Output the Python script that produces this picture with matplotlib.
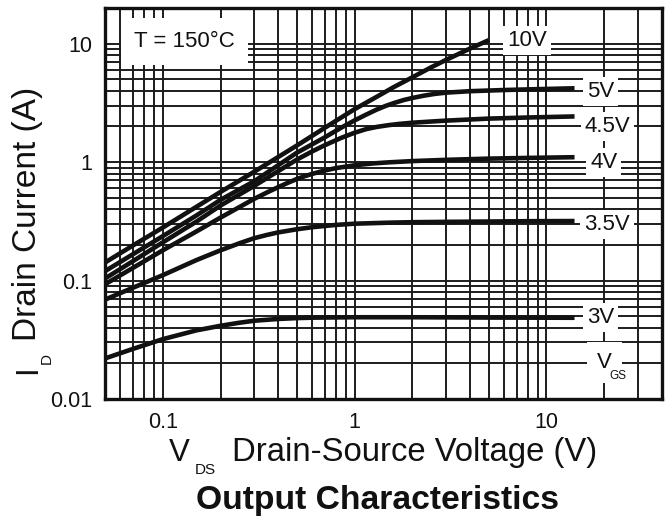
import matplotlib
matplotlib.use("Agg")
import matplotlib.pyplot as plt
from matplotlib.ticker import LogLocator, NullFormatter, FixedLocator, FixedFormatter

plt.rcParams['font.family'] = ['Liberation Sans', 'DejaVu Sans']

# Output characteristics at T = 150 °C: drain current vs drain-source voltage per gate voltage
vgs_labels = ["10V", "5V", "4.5V", "4V", "3.5V", "3V"]

vds_10 = [0.05, 0.07, 0.1, 0.15, 0.2, 0.3, 0.5, 0.7, 1.0, 1.3, 1.6, 2.0, 2.5, 3.0, 4.0, 5.0]
id_10 = [0.142, 0.198, 0.28, 0.42, 0.56, 0.83, 1.38, 1.95, 2.8, 3.55, 4.3, 5.2, 6.3, 7.3, 9.1, 10.7]

vds_5 = [0.05, 0.07, 0.1, 0.15, 0.2, 0.3, 0.5, 0.7, 0.85, 1.0, 1.15, 1.3, 1.45, 1.6, 1.8,
         2.0, 2.3, 2.6, 3.0, 4.0, 6.0, 9.0, 14.0]
id_5 = [0.12, 0.167, 0.237, 0.355, 0.48, 0.69, 1.2, 1.62, 1.95, 2.25, 2.52, 2.77, 2.98, 3.15, 3.34,
        3.48, 3.64, 3.76, 3.86, 3.97, 4.06, 4.13, 4.2]

vds_45 = [0.05, 0.07, 0.1, 0.15, 0.2, 0.3, 0.5, 0.6, 0.7, 0.85, 1.0, 1.15, 1.3, 1.5, 1.7, 2.0,
          2.5, 3.0, 5.0, 8.0, 14.0]
id_45 = [0.104, 0.146, 0.21, 0.315, 0.43, 0.63, 1.05, 1.23, 1.39, 1.6, 1.77, 1.9, 1.98, 2.05, 2.1, 2.15,
         2.2, 2.24, 2.33, 2.38, 2.43]

vds_4 = [0.05, 0.07, 0.1, 0.15, 0.2, 0.3, 0.35, 0.4, 0.45, 0.5, 0.55, 0.6, 0.7, 0.8, 1.0, 1.25,
         1.5, 2.0, 3.0, 5.0, 8.0, 14.0]
id_4 = [0.093, 0.128, 0.18, 0.26, 0.34, 0.49, 0.555, 0.615, 0.67, 0.72, 0.76, 0.795, 0.85, 0.89, 0.94,
        0.975, 0.995, 1.02, 1.045, 1.07, 1.085, 1.1]

vds_35 = [0.05, 0.07, 0.1, 0.15, 0.2, 0.25, 0.3, 0.35, 0.4, 0.5, 0.6, 0.8, 1.0, 1.5, 2.0, 3.0,
          5.0, 8.0, 14.0]
id_35 = [0.069, 0.087, 0.111, 0.149, 0.18, 0.206, 0.228, 0.243, 0.255, 0.271, 0.282, 0.295, 0.302,
         0.308, 0.311, 0.313, 0.315, 0.317, 0.318]

vds_3 = [0.05, 0.07, 0.1, 0.15, 0.2, 0.25, 0.3, 0.4, 0.5, 0.6, 1.0, 2.0, 5.0, 14.0]
id_3 = [0.022, 0.0265, 0.032, 0.038, 0.0415, 0.044, 0.0458, 0.0474, 0.0482, 0.0486, 0.049, 0.049,
        0.0487, 0.0485]

x_ticks = [0.1, 1, 10]
x_tick_labels = ["0.1", "1", "10"]
y_ticks = [0.01, 0.1, 1, 10]
y_tick_labels = ["0.01", "0.1", "1", "10"]

W, H = 672, 521


def fpos(x, y):
    """Figure-fraction coordinates from pixel offsets (origin top-left)."""
    return x / W, 1 - y / H


fig = plt.figure(figsize=(W / 100, H / 100), dpi=100)
fig.patch.set_facecolor("white")
ax = fig.add_axes([105 / W, 1 - 399 / H, (662 - 105) / W, (399 - 8) / H])
ax.set_xscale("log")
ax.set_yscale("log")
ax.set_xlim(0.05, 40)
ax.set_ylim(0.01, 20)

ax.xaxis.set_major_locator(FixedLocator(x_ticks))
ax.xaxis.set_major_formatter(FixedFormatter(x_tick_labels))
ax.yaxis.set_major_locator(FixedLocator(y_ticks))
ax.yaxis.set_major_formatter(FixedFormatter(y_tick_labels))
for axis in (ax.xaxis, ax.yaxis):
    axis.set_minor_locator(LogLocator(base=10, subs=range(2, 10), numticks=20))
    axis.set_minor_formatter(NullFormatter())

ax.tick_params(which="both", length=0, labelsize=15.5, colors="#111111")
ax.tick_params(axis="x", pad=9)
ax.tick_params(axis="y", pad=9)

ax.grid(which="both", color="#1c1c1c", linewidth=1.4)
ax.set_axisbelow(True)
for sp in ax.spines.values():
    sp.set_linewidth(2.4)
    sp.set_color("#111111")

curves = [(vds_10, id_10), (vds_5, id_5), (vds_45, id_45),
          (vds_4, id_4), (vds_35, id_35), (vds_3, id_3)]
for v, i in curves:
    ax.plot(v, i, color="#111111", linewidth=3.3, solid_capstyle="butt",
            solid_joinstyle="round", zorder=3)

# Gate-voltage labels at the right end of each curve
label_xy = [(7.9, 10.6), (19.2, 3.92), (20.8, 1.98), (19.9, 1.0), (20.7, 0.298), (19.2, 0.0486)]
box = dict(boxstyle="square,pad=0.18", facecolor="white", edgecolor="none")
for text, (lx, ly) in zip(vgs_labels, label_xy):
    ax.text(lx, ly, text, fontsize=16, ha="center", va="center",
            color="#111111", bbox=box, zorder=4)

# V_GS legend key under the curve labels
ax.text(20.0, 0.0205, "V", fontsize=16, ha="center", va="center", color="#111111",
        bbox=dict(boxstyle="square,pad=0.45", facecolor="white", edgecolor="none"), zorder=4)
ax.text(23.6, 0.0156, "GS", fontsize=8.5, ha="center", va="center", color="#111111", zorder=5)

# Temperature annotation
ax.text(0.13, 10.4, "T = 150°C", fontsize=16, ha="center", va="center", color="#111111",
        bbox=dict(boxstyle="square,pad=0.6", facecolor="white", edgecolor="none"), zorder=4)

# Axis labels with subscripts
fig.text(*fpos(179, 453), "V", fontsize=22.5, ha="center", va="center", color="#111111")
fig.text(*fpos(205, 470), "DS", fontsize=11, ha="center", va="center", color="#111111")
fig.text(*fpos(232, 453), "Drain-Source Voltage (V)", fontsize=23.7, ha="left",
         va="center", color="#111111")

fig.text(*fpos(28, 370), "I", fontsize=22.5, rotation=90, ha="center", va="center", color="#111111")
fig.text(*fpos(47, 358), "D", fontsize=11, rotation=90, ha="center", va="center", color="#111111")
fig.text(*fpos(28, 214), "Drain Current (A)", fontsize=24, rotation=90, ha="center",
         va="center", color="#111111")

fig.text(*fpos(378, 500), "Output Characteristics", fontsize=24.2, fontweight="bold",
         ha="center", va="center", color="#111111")

fig.savefig("out.png", dpi=100, facecolor="white")
